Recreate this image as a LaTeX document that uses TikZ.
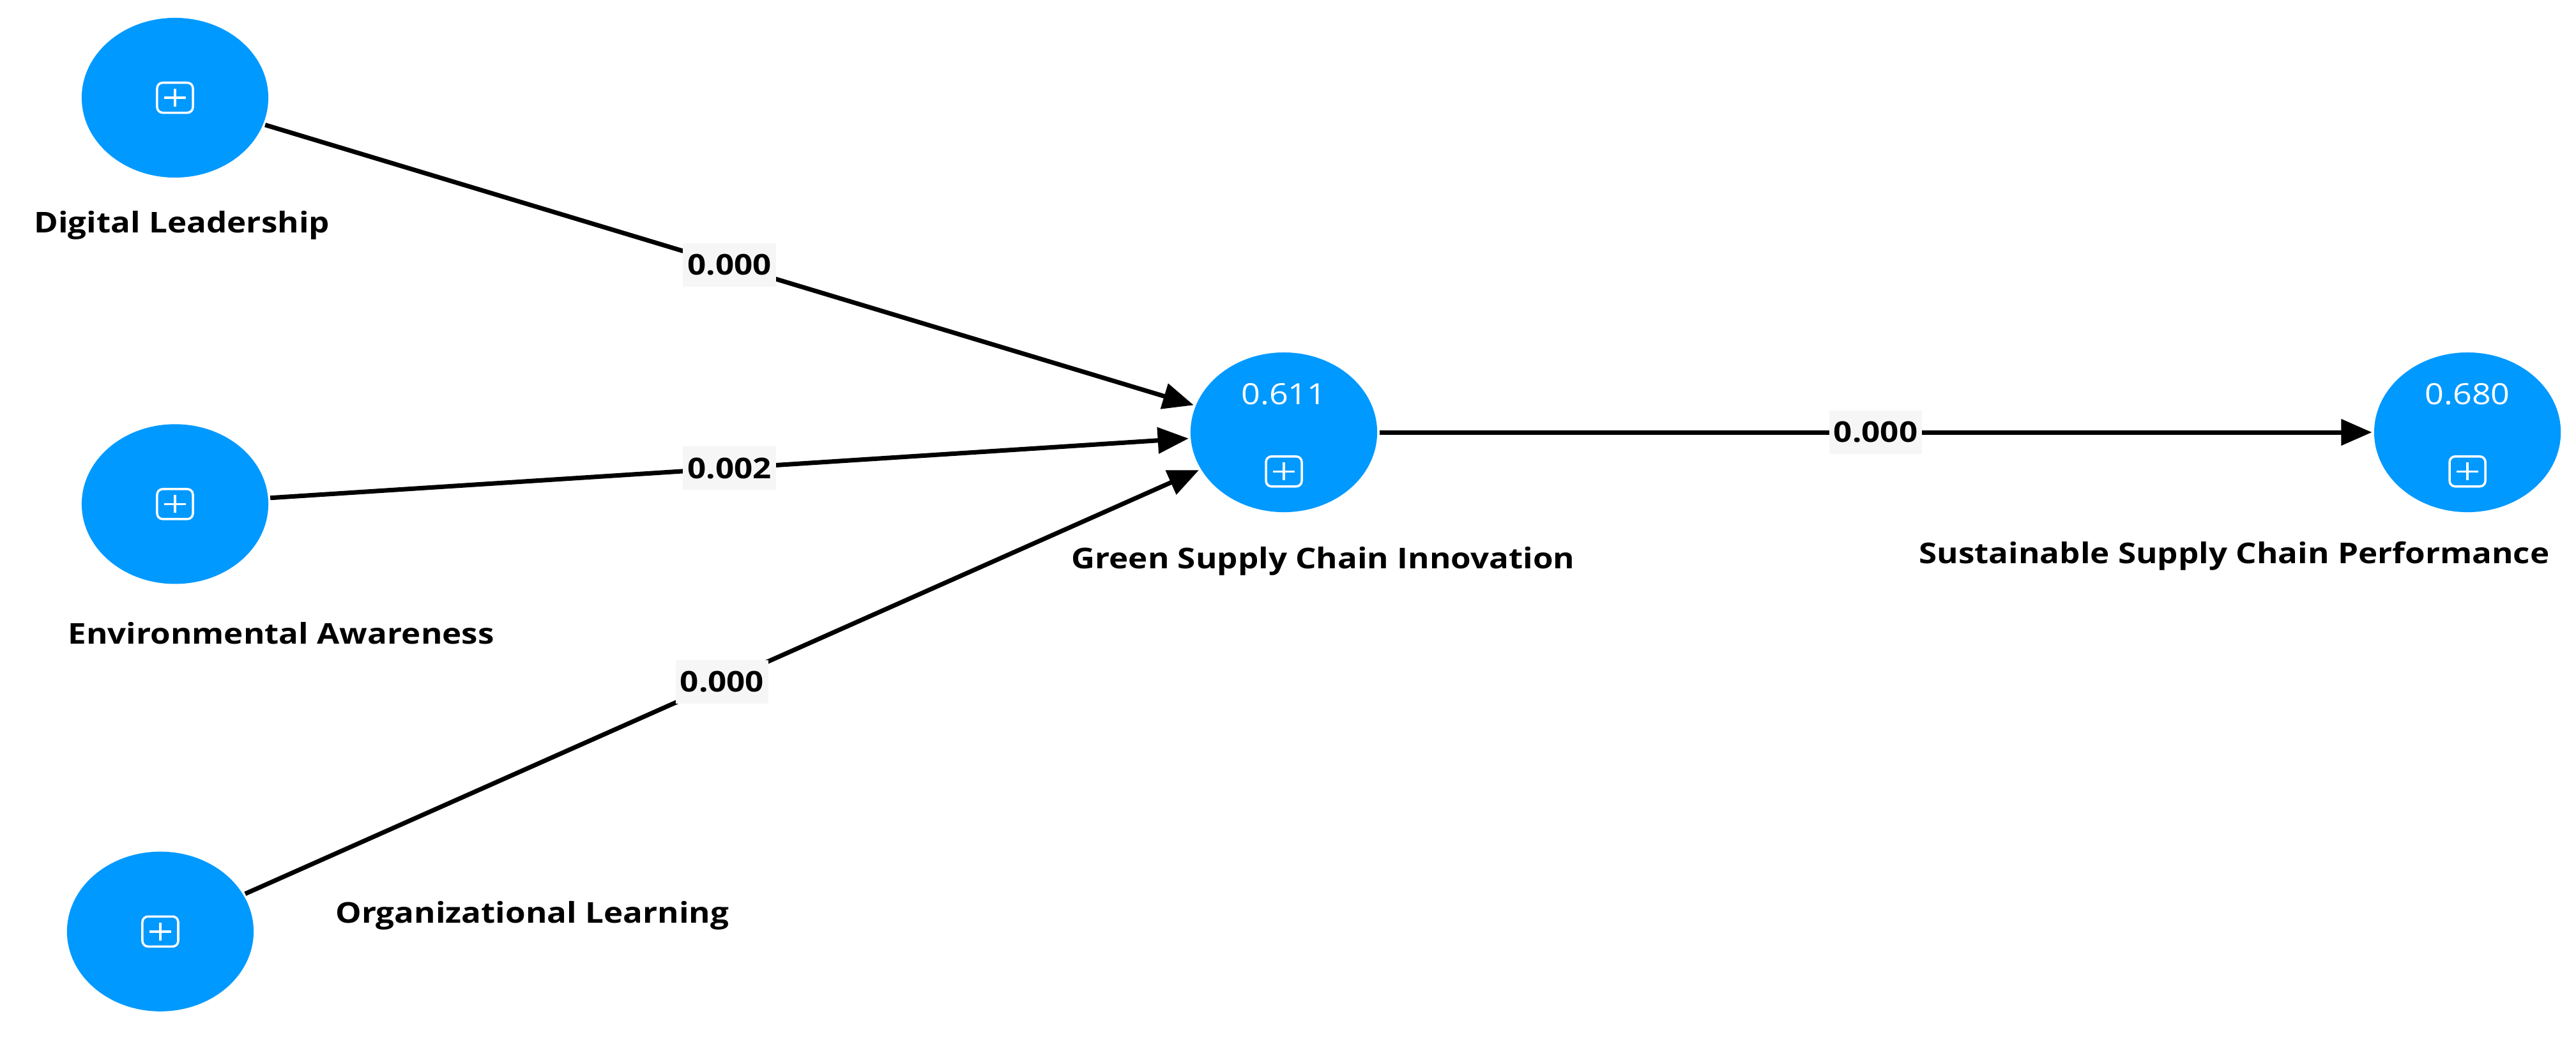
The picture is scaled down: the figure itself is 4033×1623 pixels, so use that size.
\documentclass[tikz,border=0pt]{standalone}
\usepackage{fontspec}
\setmainfont{Open Sans}[FakeStretch=1.14]
\usepackage{tikz}
\usetikzlibrary{arrows.meta,positioning,shapes.geometric}
\definecolor{plsblue}{RGB}{0,153,255}
\definecolor{weightbg}{RGB}{246,246,246}

\begin{document}
\begin{tikzpicture}[x=0.01cm,y=-0.01cm,->,>={Triangle[length=13.7pt,width=11.4pt]},
  line width=2pt,on grid,
  construct/.style={ellipse,fill=plsblue,draw=none,inner sep=0pt,
    minimum width=2.92cm,minimum height=2.5cm},
  plusbox/.style={draw=white,line width=1pt,rounded corners=2.5pt,inner sep=0pt,
    minimum width=0.56cm,minimum height=0.47cm,
    path picture={\draw[-,white,line width=1pt]
      ([xshift=-0.17cm]path picture bounding box.center) -- ([xshift=0.17cm]path picture bounding box.center)
      ([yshift=-0.14cm]path picture bounding box.center) -- ([yshift=0.14cm]path picture bounding box.center);}},
  rsq/.style={text=white,font=\fontsize{13}{15}\selectfont,inner sep=0pt},
  title/.style={anchor=base west,inner sep=0pt,font=\fontsize{12.75}{15}\selectfont\bfseries}]

  \useasboundingbox (0,0) rectangle (4033,1623);

  % constructs
  \node[construct] (dl) at (274,153) {};
  \node[construct] (ea) [below=6.36cm of dl] {};
  \node[construct] (ol) [below=6.69cm of ea,xshift=-0.23cm] {};
  \node[construct] (gsci) at (2010,677) {};
  \node[construct] (sscp) [right=18.52cm of gsci] {};

  \node[plusbox] (dl-icon) at (dl) {};
  \node[plusbox] (ea-icon) at (ea) {};
  \node[plusbox] (ol-icon) at (ol) {};
  \node[rsq] (gsci-r2) [above=0.39cm of gsci.center] {0.611};
  \node[plusbox] (gsci-icon) [below=0.36cm of gsci.center] {};
  \node[rsq] (sscp-r2) [above=0.39cm of sscp.center] {0.680};
  \node[plusbox] (sscp-icon) [below=0.36cm of sscp.center] {};

  % names
  \node[title] (dl-name) at (50,364) {Digital Leadership};
  \node[title] (ea-name) at (103,1008) {Environmental Awareness};
  \node[title] (ol-name) at (522,1445) {Organizational Learning};
  \node[title] (gsci-name) at (1674,890) {Green Supply Chain Innovation};
  \node[title] (sscp-name) at (3001,882) {Sustainable Supply Chain Performance};

  \path[every node/.style={fill=weightbg,inner xsep=2pt,inner ysep=5pt,
      font=\fontsize{12.75}{15}\selectfont\bfseries}]
    (dl) edge node {0.000} (gsci)
    (ea) edge node {0.002} (gsci)
    (ol) edge node {0.000} (gsci)
    (gsci) edge node {0.000} (sscp);
\end{tikzpicture}
\end{document}
